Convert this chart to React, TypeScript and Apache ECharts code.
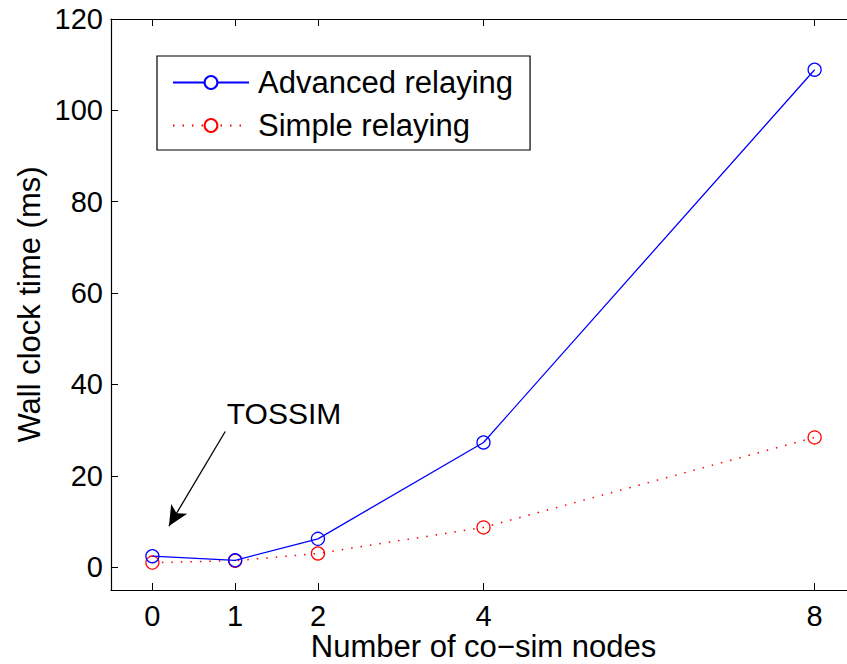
import React, { useEffect, useRef } from "react";
import * as echarts from "echarts";

const nodes = [0, 1, 2, 4, 8];
const advanced = [2.4, 1.5, 6.2, 27.3, 108.9];
const simple = [1.0, 1.4, 3.0, 8.7, 28.4];
const yTicks = [0, 20, 40, 60, 80, 100, 120];
const seriesNames = ["Advanced relaying", "Simple relaying"];
const annotationText = "TOSSIM";
const arrowFrom = [0.88, 29.7];
const arrowTo = [0.2, 9.0];
const annotationPos = [1.59, 33.6];

const FONT = "'Liberation Sans', Arial, Helvetica, sans-serif";

export default function App() {
  const ref = useRef<HTMLDivElement>(null);
  useEffect(() => {
    const chart = echarts.init(ref.current!, null, { renderer: "svg" });
    const axisCommon = {
      axisLine: { show: true, onZero: false, lineStyle: { color: "#000", width: 1.2 } },
      axisTick: { show: true, inside: true, length: 7, lineStyle: { color: "#000", width: 1 } },
      splitLine: { show: false },
    };
    chart.setOption({
      animation: false,
      backgroundColor: "#fff",
      textStyle: { fontFamily: FONT },
      grid: { left: 111, top: 19, bottom: 74, width: 745, containLabel: false, outerBoundsMode: "none" },
      legend: {
        left: 157,
        top: 56,
        orient: "vertical",
        borderColor: "#000",
        borderWidth: 1.2,
        borderRadius: 0,
        backgroundColor: "#fff",
        padding: [11, 17, 9, 15],
        itemWidth: 76,
        itemHeight: 16,
        itemGap: 12,
        itemStyle: { color: "#ffffff", opacity: 1 },
        data: seriesNames.map((n) => ({ name: n, itemStyle: { color: "#ffffff", opacity: 1 } })),
        textStyle: { fontFamily: FONT, fontSize: 31, color: "#000", padding: [0, 0, 0, 4], lineHeight: 30 },
      },
      xAxis: [
        {
          type: "value",
          min: -0.5,
          max: 8.5,
          position: "bottom",
          name: "Number of co\u2212sim nodes",
          nameLocation: "middle",
          nameGap: 42,
          nameMoveOverlap: false,
          nameTextStyle: { fontFamily: FONT, fontSize: 31, color: "#000", lineHeight: 28 },
          ...axisCommon,
          axisTick: { ...axisCommon.axisTick, customValues: nodes },
          axisLabel: { customValues: nodes, fontFamily: FONT, fontSize: 29, color: "#000", margin: 13, lineHeight: 26 },
        },
        {
          type: "value",
          min: -0.5,
          max: 8.5,
          position: "top",
          ...axisCommon,
          axisTick: { ...axisCommon.axisTick, customValues: nodes },
          axisLabel: { show: false },
        },
      ],
      yAxis: [
        {
          type: "value",
          min: -5,
          max: 120,
          position: "left",
          name: "Wall clock time (ms)",
          nameLocation: "middle",
          nameGap: 66,
          nameMoveOverlap: false,
          nameTextStyle: { fontFamily: FONT, fontSize: 31, color: "#000" },
          ...axisCommon,
          axisTick: { ...axisCommon.axisTick, customValues: yTicks },
          axisLabel: { customValues: yTicks, fontFamily: FONT, fontSize: 29, color: "#000", margin: 8 },
        },
        {
          type: "value",
          min: -5,
          max: 120,
          position: "right",
          ...axisCommon,
          axisTick: { ...axisCommon.axisTick, customValues: yTicks },
          axisLabel: { show: false },
        },
      ],
      series: [
        {
          name: seriesNames[0],
          type: "line",
          data: nodes.map((x, i) => [x, advanced[i]]),
          symbol: "circle",
          symbolSize: 13,
          color: "#0000ff",
          lineStyle: { color: "#0000ff", width: 1.3, type: "solid" },
          itemStyle: { color: "rgba(0,0,0,0)", borderColor: "#0000ff", borderWidth: 1.3 },
          z: 3,
        },
        {
          name: seriesNames[1],
          type: "line",
          data: nodes.map((x, i) => [x, simple[i]]),
          symbol: "circle",
          symbolSize: 13,
          color: "#ff0000",
          lineStyle: { color: "#ff0000", width: 1.5, type: [1.5, 8] },
          itemStyle: { color: "rgba(0,0,0,0)", borderColor: "#ff0000", borderWidth: 1.3 },
          z: 2,
        },
        {
          name: "annotation",
          type: "line",
          data: [],
          silent: true,
          markLine: {
            silent: true,
            symbol: ["none", "arrow"],
            symbolSize: [14, 20],
            lineStyle: { color: "#000", width: 1.3, type: "solid" },
            label: { show: false },
            data: [[{ coord: arrowFrom }, { coord: arrowTo }]],
          },
          markPoint: {
            silent: true,
            symbol: "circle",
            symbolSize: 0,
            label: {
              show: true,
              formatter: annotationText,
              fontFamily: FONT,
              fontSize: 30,
              color: "#000",
              position: "inside",
            },
            data: [{ coord: annotationPos }],
          },
        },
      ],
    });
    return () => chart.dispose();
  }, []);
  return <div ref={ref} style={{ width: 847, height: 664, position: "absolute", left: 0, top: 0 }} />;
}
